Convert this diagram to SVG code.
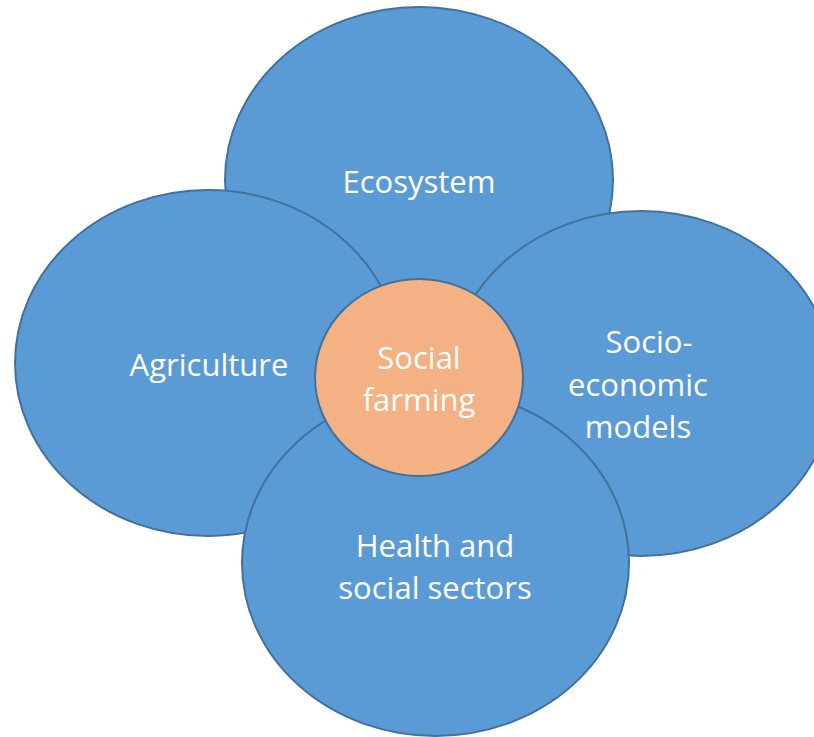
<svg xmlns="http://www.w3.org/2000/svg" width="814" height="737" viewBox="0 0 814 737">
  <style>
    .petal { fill: #5B9BD5; stroke: #41719C; stroke-width: 2; }
    .core { fill: #F4B183; stroke: #41719C; stroke-width: 2; }
    .label { fill: #FFFFFF; font-family: "Open Sans", "Liberation Sans", sans-serif; font-size: 31px; text-anchor: middle; }
  </style>
  <rect width="814" height="737" fill="#FFFFFF"/>
  <g id="ecosystem">
    <ellipse class="petal" cx="419" cy="180" rx="194" ry="173"/>
    <text class="label" x="419" y="193">Ecosystem</text>
  </g>
  <g id="agriculture">
    <ellipse class="petal" cx="208" cy="363" rx="193" ry="173"/>
    <text class="label" x="209" y="376">Agriculture</text>
  </g>
  <g id="socio-economic">
    <ellipse class="petal" cx="641" cy="383.5" rx="193" ry="172.5"/>
    <text class="label" x="649" y="353">Socio-</text>
    <text class="label" x="638" y="396">economic</text>
    <text class="label" x="638" y="438">models</text>
  </g>
  <g id="health">
    <ellipse class="petal" cx="435.5" cy="563" rx="193.5" ry="173"/>
    <text class="label" x="435" y="557">Health and</text>
    <text class="label" x="435" y="599">social sectors</text>
  </g>
  <g id="social-farming">
    <ellipse class="core" cx="419" cy="377.5" rx="104" ry="98.5"/>
    <text class="label" x="419" y="369">Social</text>
    <text class="label" x="419" y="411">farming</text>
  </g>
  <g id="connectors"/>
</svg>
